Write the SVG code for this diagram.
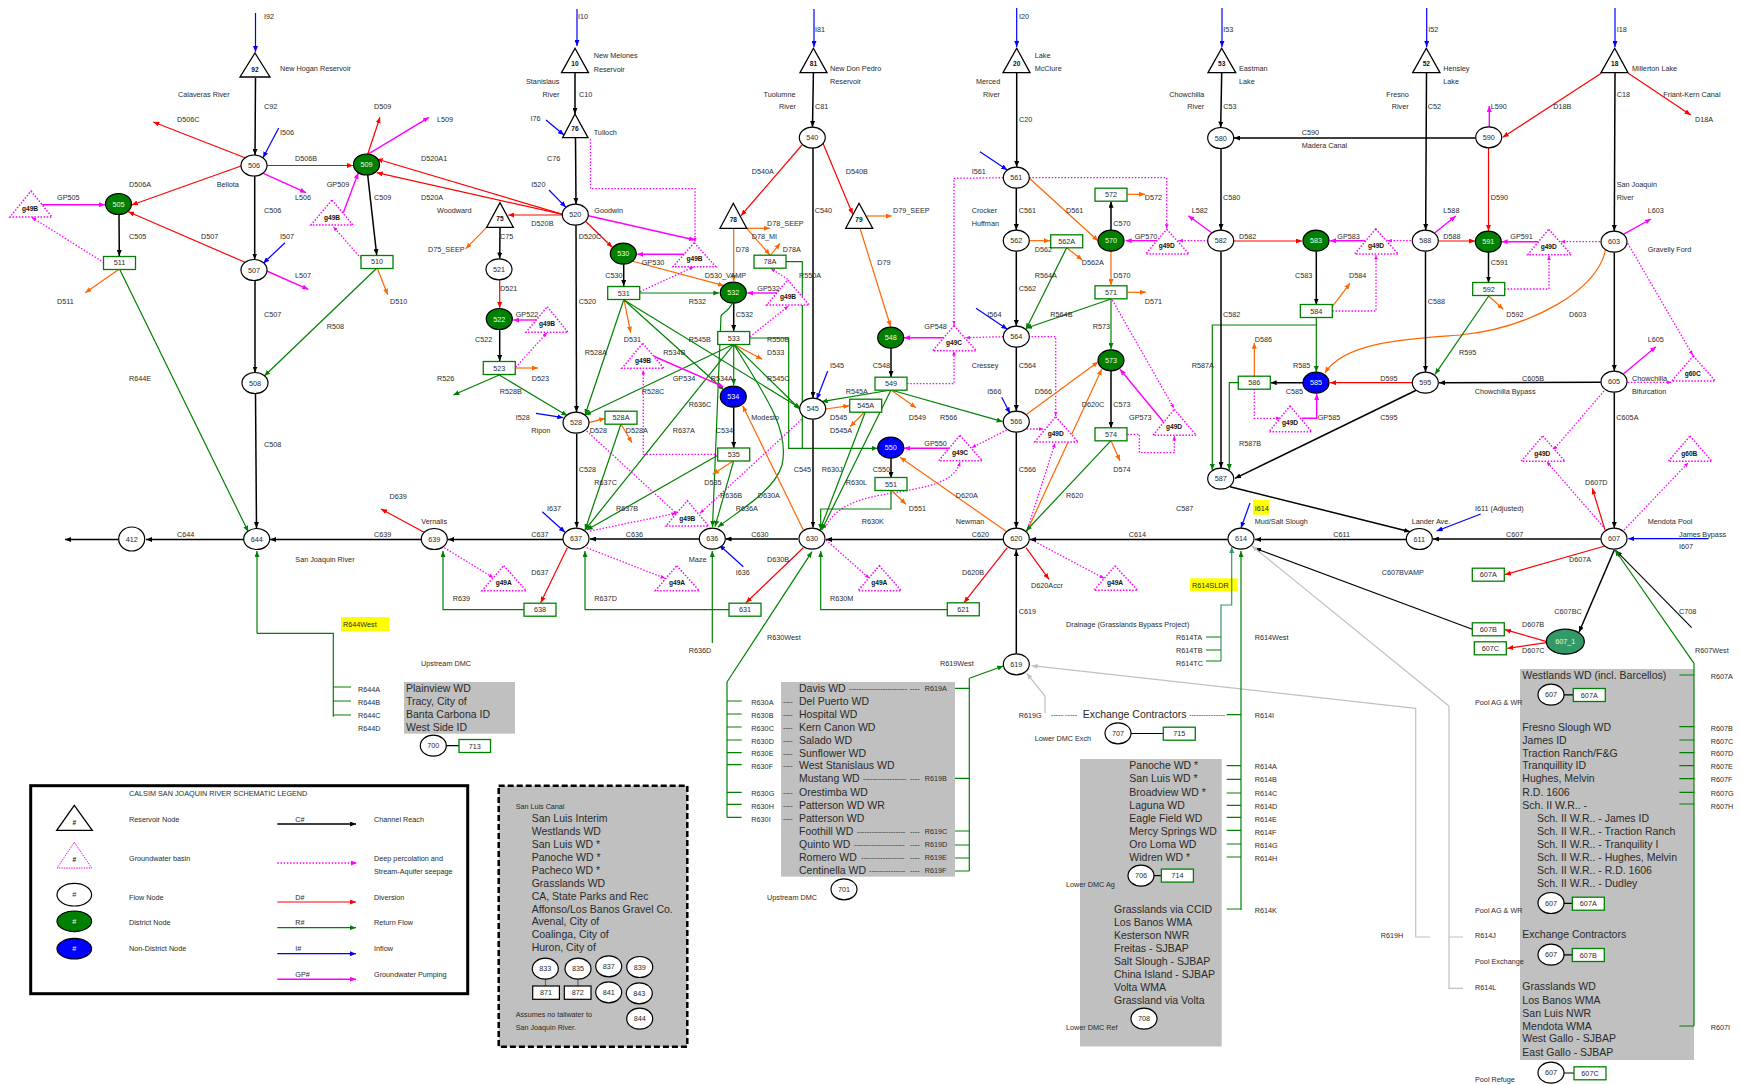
<svg xmlns="http://www.w3.org/2000/svg" width="1740" height="1085" viewBox="0 0 1740 1085">
<style>
text{font-family:"Liberation Sans",Arial,sans-serif;font-size:7.25px;fill:#2a2a2a}
.big text,text.big{font-size:10.5px}
.sm{font-size:7.2px}
.nt{text-anchor:middle}
.wt{fill:#e8ffe8;text-anchor:middle}
.gt{font-size:6.6px;font-weight:bold;text-anchor:middle;fill:#111}
path{fill:none}
.f{fill:#fff;stroke:#000;stroke-width:1.2}
.fg{fill:#008000;stroke:#000;stroke-width:1.2}
.fb{fill:#00f;stroke:#000;stroke-width:1.2}
.fs{fill:#339966;stroke:#000;stroke-width:1.2}
.rc{fill:#fff;stroke:#008000;stroke-width:1.3}
.rk{fill:#fff;stroke:#000;stroke-width:1.2}
.tr{fill:#fff;stroke:#000;stroke-width:1.3}
.gw{fill:#fff;stroke:#f0f;stroke-width:1.5;stroke-dasharray:1.5 1.6}
.c{stroke:#000;stroke-width:1.5;marker-end:url(#ak)}
.d{stroke:#f00;stroke-width:1.2;marker-end:url(#ar)}
.r{stroke:#008000;stroke-width:1.2;marker-end:url(#ag)}
.n{stroke:#008000;stroke-width:1.2}
.i{stroke:#00f;stroke-width:1.2;marker-end:url(#ab)}
.o{stroke:#ff6600;stroke-width:1.2;marker-end:url(#ao)}
.g{stroke:#f0f;stroke-width:1.4;marker-end:url(#am)}
.s{stroke:#f0f;stroke-width:1.3;stroke-dasharray:1.5 1.7;marker-end:url(#as)}
.y{stroke:#c0c0c0;stroke-width:1.2}
.ya{stroke:#c0c0c0;stroke-width:1.2;marker-end:url(#ay)}
.sg{stroke:#339966;stroke-width:1.2}
.k{stroke:#000;stroke-width:1.2}
</style>
<defs>
<marker id="ak" viewBox="0 0 6 5" refX="6" refY="2.5" markerUnits="userSpaceOnUse" markerWidth="6" markerHeight="5" orient="auto"><path d="M0 0L6 2.5L0 5z" style="fill:#000"/></marker>
<marker id="ar" viewBox="0 0 6 5" refX="6" refY="2.5" markerUnits="userSpaceOnUse" markerWidth="6" markerHeight="5" orient="auto"><path d="M0 0L6 2.5L0 5z" style="fill:#f00"/></marker>
<marker id="ag" viewBox="0 0 6 5" refX="6" refY="2.5" markerUnits="userSpaceOnUse" markerWidth="6" markerHeight="5" orient="auto"><path d="M0 0L6 2.5L0 5z" style="fill:#008000"/></marker>
<marker id="ab" viewBox="0 0 6 5" refX="6" refY="2.5" markerUnits="userSpaceOnUse" markerWidth="6" markerHeight="5" orient="auto"><path d="M0 0L6 2.5L0 5z" style="fill:#00f"/></marker>
<marker id="ao" viewBox="0 0 6 5" refX="6" refY="2.5" markerUnits="userSpaceOnUse" markerWidth="6" markerHeight="5" orient="auto"><path d="M0 0L6 2.5L0 5z" style="fill:#ff6600"/></marker>
<marker id="am" viewBox="0 0 6 5" refX="6" refY="2.5" markerUnits="userSpaceOnUse" markerWidth="6" markerHeight="5" orient="auto"><path d="M0 0L6 2.5L0 5z" style="fill:#f0f"/></marker>
<marker id="as" viewBox="0 0 6 5" refX="6" refY="2.5" markerUnits="userSpaceOnUse" markerWidth="4.5" markerHeight="4" orient="auto"><path d="M0 0L6 2.5L0 5z" style="fill:#f0f"/></marker>
<marker id="ay" viewBox="0 0 6 5" refX="6" refY="2.5" markerUnits="userSpaceOnUse" markerWidth="6" markerHeight="5" orient="auto"><path d="M0 0L6 2.5L0 5z" style="fill:#c0c0c0"/></marker>
<marker id="asg" viewBox="0 0 6 5" refX="6" refY="2.5" markerUnits="userSpaceOnUse" markerWidth="6" markerHeight="5" orient="auto"><path d="M0 0L6 2.5L0 5z" style="fill:#339966"/></marker>
</defs>
<rect width="1740" height="1085" fill="#fff"/>

<g id="panels">
<rect x="404" y="682" width="111" height="51.7" fill="#c0c0c0"/>
<rect x="781" y="682" width="174" height="194.7" fill="#c0c0c0"/>
<rect x="1080" y="759" width="141.7" height="287.5" fill="#c0c0c0"/>
<rect x="1520" y="669" width="174" height="391" fill="#c0c0c0"/>
<rect x="498.7" y="785.7" width="188.6" height="261" fill="#c0c0c0" stroke="#000" stroke-width="2.5" stroke-dasharray="6 3"/>
<rect x="341" y="617" width="48" height="14" fill="#ff0"/>
<rect x="1190" y="578.3" width="47.7" height="12.7" fill="#ff0"/>
<rect x="1253" y="500" width="16" height="14.7" fill="#ff0"/>
</g>

<g id="connectors">
<path class="i" d="M255.5 13V52"/><path class="i" d="M577 9V46"/><path class="i" d="M814 9V47"/><path class="i" d="M1016.7 8V47"/><path class="i" d="M1222 8V47"/><path class="i" d="M1426.7 8V47"/><path class="i" d="M1615 8V47"/>
<path class="c" d="M255.5 78L255 155"/>
<path class="i" d="M278.7 128L263 157.7"/>
<path class="d" d="M245 157.7L153.3 122"/>
<path class="d" d="M267 165.5H353"/>
<path class="g" d="M263.3 173.3L306 192.7"/>
<path class="d" d="M241.7 165.7L131.7 205"/>
<path class="c" d="M254.7 176V259.5"/>
<path class="i" d="M285 242.7L263.3 263.3"/>
<path class="d" d="M245 262.3L128.3 211.7"/>
<path class="g" d="M266.7 271L308.3 289.3"/>
<path class="c" d="M255 281V372.5"/>
<path class="c" d="M255.5 393.5L256.5 528"/>
<path class="r" d="M376.7 268.3L264.3 376"/>
<path class="c" d="M119 215L119.3 256"/>
<path class="g" d="M40 204.7H105"/>
<path class="s" d="M104 262.7L31.7 217.3"/>
<path class="o" d="M119 269.3L85.3 292.7"/>
<path class="r" d="M119.5 269L248.3 531.7"/>
<path class="d" d="M367.7 154.3L380 117.3"/>
<path class="g" d="M367.7 154.3L429 117.3"/>
<path class="g" d="M343.3 212.7L358.3 172.7"/>
<path class="c" d="M367.7 175L376.7 255"/>
<path class="s" d="M361 258.3L333.3 226.7"/>
<path class="o" d="M377.3 268.3L387.7 294.7"/>
<path class="d" d="M562.7 214.3L376.7 159"/>
<path class="d" d="M562.7 214.3L376.7 172.7"/>
<path class="d" d="M562.7 215H508.3"/>
<path class="o" d="M486.7 227.3L465.7 248.7"/>
<path class="c" d="M500 228L499.7 258.5"/>
<path class="d" d="M499.7 280V308"/>
<path class="c" d="M499.7 330V361"/>
<path class="g" d="M537.3 320H513.3"/>
<path class="s" d="M515.7 367.3L547 332.7"/>
<path class="o" d="M516 368H538"/>
<path class="r" d="M499.3 375L453.3 395"/>
<path class="r" d="M499.3 375L567.3 415.7"/>
<path class="c" d="M575 73V114"/>
<path class="i" d="M546 120L564 135"/>
<path class="s" d="M590.5 139V188.7H695V242"/>
<path class="c" d="M575.5 138L576 204"/>
<path class="i" d="M549 190L566 207.3"/>
<path class="c" d="M576 225.5L576.5 412"/>
<path class="d" d="M586 221.7L612.3 247.3"/>
<path class="g" d="M588.3 215.7L695 240"/>
<path class="c" d="M623.7 264.5V286"/>
<path class="g" d="M685 254.3H637.3"/>
<path class="o" d="M631.7 261L724 285.7"/>
<path class="s" d="M640 291.7L694 266.7"/>
<path class="r" d="M640 293H719.3"/>
<path class="r" d="M623.7 300L585 415"/>
<path class="o" d="M624 300L630.7 332.7"/>
<path class="r" d="M624 300L724 390"/>
<path class="r" d="M624 300L800 408"/>
<path class="c" d="M733.7 303.5V331"/>
<path class="r" d="M732 304C728 312 722 313 721 316L712.5 527"/>
<path class="g" d="M778.3 293H747.3"/>
<path class="s" d="M750 336.7L788.3 306"/>
<path class="r" d="M750 338H788.7V448.3H877.7"/>
<path class="n" d="M786 261.7H802.3V448.3"/>
<path class="r" d="M733.7 343.7V385"/>
<path class="o" d="M733.7 344.3L762.3 359.3"/>
<path class="r" d="M733.7 344.3L585 415"/>
<path class="r" d="M733.7 344.3L585 530"/>
<path class="r" d="M733.7 344.3L800 409.3"/>
<path class="r" d="M733.7 344.3C765 395 790 430 782 465C775 490 740 510 718 527"/>
<path class="r" d="M733.7 460.7L715 526.7"/>
<path class="r" d="M718.3 455L586.7 530"/>
<path class="o" d="M733.7 460.7L712.7 474.3"/>
<path class="c" d="M733.7 407.5V448"/>
<path class="g" d="M653.3 356L723.3 386.7"/>
<path class="s" d="M718.3 454.3H643.3V370"/>
<path class="o" d="M803.3 530L742.7 405.7"/>
<path class="s" d="M586.7 431L678 515"/>
<path class="s" d="M590 531L676 513.3"/>
<path class="s" d="M801.7 419.3L700 513.3"/>
<path class="s" d="M825 528C840 495 890 495 910 490C935 485 955 480 960 462"/>
<path class="s" d="M826 540L869.3 578.3"/>
<path class="s" d="M586.7 547.7L665 578.3"/>
<path class="s" d="M444.3 547.7L493.3 577.7"/>
<path class="s" d="M1031.7 540L1104 578.3"/>
<path class="c" d="M576.7 433.5V527.5"/>
<path class="i" d="M536 413.3L563.3 417.7"/>
<path class="o" d="M589 422.7L605 418.3"/>
<path class="o" d="M621 424L632 442.7"/>
<path class="r" d="M621 424L585 530"/>
<path class="i" d="M542.3 511.7L565 532.3"/>
<path class="c" d="M699 539H590"/>
<path class="c" d="M798 539H725.5"/>
<path class="c" d="M563 539.5H448"/>
<path class="c" d="M421 539.5H270"/>
<path class="c" d="M244 539.5H146"/>
<path class="c" d="M118.5 539.5H65"/>
<path class="c" d="M813 419.5V527.5"/>
<path class="c" d="M813 148V398"/>
<path class="d" d="M567.3 547.7L540.7 602.7"/>
<path class="r" d="M524 609.7H443V551"/>
<path class="r" d="M729 609.7H585V551"/>
<path class="r" d="M712.3 643V551"/>
<path class="i" d="M743.3 566.7L719.3 545"/>
<path class="d" d="M803.3 547.7L746 602.7"/>
<path class="r" d="M947 609.7H820.7V551"/>
<path class="r" d="M865.7 411L820 530"/>
<path class="r" d="M891 390L821.7 530"/>
<path class="r" d="M891 490V509H820.7V530"/>
<path class="i" d="M827.7 371L816.7 399.3"/>
<path class="r" d="M891 390L821.7 401.7"/>
<path class="o" d="M825.7 409L849.3 405.7"/>
<path class="o" d="M865.7 411L850 426.7"/>
<path class="c" d="M891 348.5V377"/>
<path class="o" d="M891 390L916 407.7"/>
<path class="r" d="M891 390L1002.7 421.7"/>
<path class="s" d="M907 383.7H954V351"/>
<path class="g" d="M943.3 337.7H904"/>
<path class="s" d="M1003.3 336.7L965.7 337.7"/>
<path class="s" d="M1003.3 177.7L954 178.3V325"/>
<path class="s" d="M1029.3 177.7H1166.7V228.7"/>
<path class="o" d="M860 228.3L890.7 326.7"/>
<path class="o" d="M866.7 216H891.7"/>
<path class="o" d="M733.7 228.3V281"/>
<path class="o" d="M746.7 228.3H770"/>
<path class="o" d="M746.7 228.3L770 255"/>
<path class="o" d="M770.7 255L780 243.3"/>
<path class="s" d="M787.7 279.3L770.7 268.3"/>
<path class="d" d="M802 145L741 215.7"/>
<path class="d" d="M822 141L852.7 214.3"/>
<path class="c" d="M813.4 73L812.5 127"/>
<path class="g" d="M949.3 448.3H904"/>
<path class="c" d="M891 458.5V478"/>
<path class="o" d="M891 490L906 504.3"/>
<path class="o" d="M1006.7 531.7L900 457.3"/>
<path class="s" d="M1006.7 430L971.7 447.7"/>
<path class="s" d="M1026.7 429H1043.3"/>
<path class="s" d="M1028.3 336.7H1055.7V416"/>
<path class="s" d="M1026.7 531.7L1055 443.3"/>
<path class="o" d="M1025.7 415L1098.3 361.7"/>
<path class="o" d="M1026.7 531.7L1101.7 369.3"/>
<path class="r" d="M1111 440.7L1026 531"/>
<path class="c" d="M1016.3 188V230"/>
<path class="c" d="M1016.3 251.5V326"/>
<path class="c" d="M1016.3 347V411"/>
<path class="c" d="M1016.3 432.5V528"/>
<path class="c" d="M1003 539.5H826"/>
<path class="c" d="M1016.7 73V167"/>
<path class="i" d="M980 151.7L1007.3 170"/>
<path class="o" d="M1029.3 178.3L1098.3 241"/>
<path class="o" d="M1030 240.7H1050"/>
<path class="o" d="M1066.7 247.7L1082.3 260"/>
<path class="r" d="M1066.7 247.7L1026 329.3"/>
<path class="r" d="M1111 299L1026 328.3"/>
<path class="i" d="M976 308.3L1007.3 329.3"/>
<path class="i" d="M1001.7 397.3L1010 413.3"/>
<path class="c" d="M1111 230V201.7"/>
<path class="o" d="M1127.3 194.3H1145"/>
<path class="o" d="M1111 251V285"/>
<path class="g" d="M1156.7 240.7H1125.7"/>
<path class="s" d="M1208.3 240.7H1178.3"/>
<path class="o" d="M1127.3 292.3H1146"/>
<path class="r" d="M1111 299V349"/>
<path class="s" d="M1112.3 300L1174 408.3"/>
<path class="c" d="M1111 371V428"/>
<path class="g" d="M1163.3 421.7L1120 369.3"/>
<path class="s" d="M1127.3 434.3H1139.3V452.7H1174.3V436"/>
<path class="o" d="M1111 440.7L1120 460.7"/>
<path class="c" d="M1221 148.5V230"/>
<path class="c" d="M1475.5 138H1234"/>
<path class="c" d="M1221.7 73L1220.7 127.5"/>
<path class="g" d="M1211.7 232.7L1188.3 215.7"/>
<path class="d" d="M1233.7 241H1302"/>
<path class="g" d="M1365 240.7H1330"/>
<path class="s" d="M1411 240.7H1387.3"/>
<path class="c" d="M1316.3 251.5V304.5"/>
<path class="o" d="M1332.3 306.7L1350 283.3"/>
<path class="s" d="M1332.3 311H1376V255"/>
<path class="r" d="M1316.3 317.5V372"/>
<path class="r" d="M1316.3 325H1212.3V470"/>
<path class="c" d="M1221 251.5V468"/>
<path class="c" d="M1303.3 382.7H1270.7"/>
<path class="o" d="M1254.3 376.7V342.7"/>
<path class="r" d="M1239.3 382.7H1229.3V470"/>
<path class="s" d="M1254.3 389V418.3H1280.7"/>
<path class="g" d="M1301.7 418.3H1316.7V394"/>
<path class="d" d="M1412 382.7H1330"/>
<path class="o" d="M1605.7 248C1600 290 1530 328 1460 335C1420 338 1345 340 1325 373"/>
<path class="c" d="M1416.7 390L1235 478.3"/>
<path class="c" d="M1230 486.7L1410 531.7"/>
<path class="c" d="M1425.5 251.5V372"/>
<path class="c" d="M1426.5 73L1425.7 230"/>
<path class="g" d="M1435 232.7L1455.7 216"/>
<path class="d" d="M1438.7 241H1475"/>
<path class="d" d="M1488.5 148V231"/>
<path class="g" d="M1489.3 127.7V106"/>
<path class="d" d="M1601.3 73.3L1502.7 137.3"/>
<path class="d" d="M1628.3 73.3L1690.7 115"/>
<path class="c" d="M1615 73L1614.3 231"/>
<path class="c" d="M1488.5 252.5V282.5"/>
<path class="g" d="M1538.7 241.7H1501.7"/>
<path class="s" d="M1600 241.7H1560.7"/>
<path class="s" d="M1504.3 289H1549V255.7"/>
<path class="o" d="M1488.7 296L1503.3 309.3"/>
<path class="r" d="M1488.7 296L1435 374.3"/>
<path class="g" d="M1623.3 234.3L1651 219"/>
<path class="s" d="M1627.7 243.3L1692.7 355"/>
<path class="c" d="M1614.3 252.5V371"/>
<path class="g" d="M1623.3 374L1656 346.7"/>
<path class="s" d="M1627.7 382.3H1671.7"/>
<path class="c" d="M1600.7 382.3L1439 382.7"/>
<path class="c" d="M1614.3 392.5V528"/>
<path class="s" d="M1603.3 526.7L1546.7 461.7"/>
<path class="s" d="M1604 391L1553.3 450"/>
<path class="s" d="M1624 530L1688.3 462.7"/>
<path class="d" d="M1605 530L1592.3 488.3"/>
<path class="i" d="M1708.3 538.7H1628.3"/>
<path class="c" d="M1600.7 539H1433"/>
<path class="i" d="M1480.7 514L1436.7 531"/>
<path class="c" d="M1406 539.5H1255"/>
<path class="c" d="M1227.7 539.5H1030"/>
<path class="d" d="M1605 546L1505 574.7"/>
<path class="c" d="M1614.3 550L1579 632.3"/>
<path class="d" d="M1546.7 641.7L1505 629.7"/>
<path class="d" d="M1546.7 642.7L1507.3 648.3"/>
<path class="c" d="M1016.3 654V550"/>
<path class="d" d="M1007.3 547.7L964 602.7"/>
<path class="d" d="M1026 547.7L1049 579.3"/>
<path class="d" d="M425 532.7L381 509"/>
<path class="i" d="M1250 503L1241 528"/>
<path class="c" style="stroke-width:1.2" d="M1472.3 629.3L1255 548.3"/>
<path class="c" style="stroke-width:1.1" d="M1691.7 627.7L1616 550.7"/>
<path class="r" d="M1694 663.3L1615 550"/>
<path class="n" d="M1694 663.3V1026"/>
<path class="n" d="M1679.3 675H1694M1679.3 726.7H1694M1679.3 740H1694M1679.3 752.7H1694M1679.3 765.7H1694M1679.3 778.7H1694M1679.3 792.3H1694M1679.3 804H1694M1679.3 1026H1694"/>
<path class="r" d="M257 633.3V551"/>
<path class="n" d="M257 633.3H333.3V716.7M333.3 687H351M333.3 701H351M333.3 715H351"/>
<path class="r" d="M727 682L812 551.7"/>
<path class="n" d="M727 682V817.3M727 701H741.7M727 714H741.7M727 727H741.7M727 740H741.7M727 752.7H741.7M727 764.7H741.7M727 792.3H741.7M727 804.3H741.7M727 817.3H741.7"/>
<path class="r" d="M969.3 678.3L1003.3 666"/>
<path class="n" d="M969.3 678.3V871M955 688.3H969.3M955 778.3H969.3M955 831H969.3M955 845H969.3M955 858H969.3M955 871H969.3"/>
<path class="ya" d="M1400 706.7L1031.7 665.7"/>
<path class="y" d="M1400 706.7L1415.7 708.3V937H1430"/>
<path class="ya" d="M1449 706L1251.7 545.7"/>
<path class="y" d="M1449 706V988.3H1463M1449 937H1463"/>
<path class="ya" d="M1045 713.3V696L1026.7 673.3"/>
<path class="r" d="M1241 910V551"/>
<path class="n" d="M1226.7 714.7H1241M1226.7 765.7H1241M1226.7 779.3H1241M1226.7 793H1241M1226.7 805.3H1241M1226.7 817.3H1241M1226.7 830.3H1241M1226.7 844H1241M1226.7 857H1241M1226.7 909H1241"/>
<path class="sg" style="marker-end:url(#asg)" d="M1221 661V605H1231.7V547"/>
<path class="n" d="M1206 637H1221M1206 650H1221M1206 661H1221"/>
<path class="k" d="M446 745.7H459M1131 733.5H1163.3"/>
<path class="k" d="M1564 694.8H1573.3M1564 903.3H1572.3M1564 954.8H1572.3M1564 1073H1574"/>
<path class="k" d="M1154 875.6H1161.4"/>
<path class="k" style="stroke:#666" d="M545.5 979V986M578 979V986"/>
</g>

<g id="legend">
<rect x="30.7" y="785.7" width="437" height="208" fill="none" stroke="#000" stroke-width="3"/>
<text x="129" y="796">CALSIM SAN JOAQUIN RIVER SCHEMATIC LEGEND</text>
<polygon points="74.3,805.3 92.3,830.3 56.7,830.3" class="tr"/><text class="gt" x="74.3" y="825">#</text>
<polygon points="74.3,842.3 91.7,868 57,868" fill="#fff" stroke="#f0f" stroke-width="1" stroke-dasharray="1.5 1"/><text class="gt" x="74.3" y="862">#</text>
<ellipse class="f" cx="74.3" cy="894.7" rx="17.3" ry="11.3"/><text class="nt" x="74.3" y="897.4">#</text>
<ellipse class="fg" cx="74.3" cy="921.3" rx="17.3" ry="10.3"/><text class="wt" x="74.3" y="924">#</text>
<ellipse class="fb" cx="74.3" cy="948.7" rx="17.3" ry="10.3"/><text class="wt" x="74.3" y="951.4">#</text>
<text x="129" y="822">Reservoir Node</text><text x="129" y="861">Groundwater basin</text><text x="129" y="900">Flow Node</text><text x="129" y="925">District Node</text><text x="129" y="951">Non-District Node</text>
<path class="c" d="M277.3 824H356"/><path class="s" style="marker-end:url(#am);stroke-width:1.5" d="M277.3 863H357"/><path class="d" d="M277.3 902H356"/><path class="r" d="M277.3 927.7H356"/><path class="i" d="M277.3 953.7H356"/><path class="g" d="M277.3 979.3H356"/>
<text x="295.3" y="822">C#</text><text x="295.3" y="900">D#</text><text x="295.3" y="925">R#</text><text x="295.3" y="951">I#</text><text x="295.3" y="977">GP#</text>
<text x="374" y="822">Channel Reach</text><text x="374" y="861">Deep percolation and</text><text x="374" y="874">Stream-Aquifer seepage</text><text x="374" y="900">Diversion</text><text x="374" y="925">Return Flow</text><text x="374" y="951">Inflow</text><text x="374" y="977">Groundwater Pumping</text>
</g>

<g id="n92"><polygon class="tr" points="255,53 270,77 240,77"/><text class="gt" x="255" y="71.5">92</text></g>
<g id="n10"><polygon class="tr" points="575,48.3 588.5,72.7 561.5,72.7"/><text class="gt" x="575" y="66">10</text></g>
<g id="n76"><polygon class="tr" points="575,114 588,137.6 562.6,137.6"/><text class="gt" x="575" y="131">76</text></g>
<g id="n81"><polygon class="tr" points="813.4,48.3 827,72.7 800,72.7"/><text class="gt" x="813.4" y="66">81</text></g>
<g id="n20"><polygon class="tr" points="1016.7,48.3 1030,72.7 1003,72.7"/><text class="gt" x="1016.7" y="66">20</text></g>
<g id="n53"><polygon class="tr" points="1221.7,48.3 1235.7,72.7 1208,72.7"/><text class="gt" x="1221.7" y="66">53</text></g>
<g id="n52"><polygon class="tr" points="1426.3,48.3 1440,72.7 1412.7,72.7"/><text class="gt" x="1426.3" y="66">52</text></g>
<g id="n18"><polygon class="tr" points="1614.7,48.3 1628,72.7 1601,72.7"/><text class="gt" x="1614.7" y="66">18</text></g>
<g id="n75"><polygon class="tr" points="500,202.7 513.3,227.3 486.7,227.3"/><text class="gt" x="500" y="221">75</text></g>
<g id="n78"><polygon class="tr" points="733.3,203.3 746.7,228.3 720,228.3"/><text class="gt" x="733.3" y="222">78</text></g>
<g id="n79"><polygon class="tr" points="859,203.3 872.7,228.3 845.7,228.3"/><text class="gt" x="859" y="222">79</text></g>

<g id="gw">
<polygon class="gw" points="31,191 52,217 10,217"/><text class="gt" x="30" y="210.5">g49B</text>
<polygon class="gw" points="332,200 353,225 311,225"/><text class="gt" x="332" y="219.5">g49B</text>
<polygon class="gw" points="694.3,242.7 715.7,266.7 673,266.7"/><text class="gt" x="694.5" y="260.5">g49B</text>
<polygon class="gw" points="787.7,280 809.3,305 766.7,305"/><text class="gt" x="788" y="299">g49B</text>
<polygon class="gw" points="547.3,306.7 568,332.3 526,332.3"/><text class="gt" x="547" y="325.5">g49B</text>
<polygon class="gw" points="642.7,343.3 664,368.3 622,368.3"/><text class="gt" x="643" y="362.5">g49B</text>
<polygon class="gw" points="687.3,500.7 708.7,526 666,526"/><text class="gt" x="687.3" y="520.5">g49B</text>
<polygon class="gw" points="954,325.7 976.3,350.7 932.7,350.7"/><text class="gt" x="954" y="344.5">g49C</text>
<polygon class="gw" points="960,435.3 982.3,460.7 938.7,460.7"/><text class="gt" x="960" y="454.5">g49C</text>
<polygon class="gw" points="1166.7,229.3 1189,254 1145.7,254"/><text class="gt" x="1166.7" y="247.5">g49D</text>
<polygon class="gw" points="1375.7,229 1398.3,254 1354.7,254"/><text class="gt" x="1376" y="247.5">g49D</text>
<polygon class="gw" points="1055.7,416.7 1078.3,442 1034.7,442"/><text class="gt" x="1055.7" y="435.5">g49D</text>
<polygon class="gw" points="1174.3,409.3 1196.3,435.3 1153,435.3"/><text class="gt" x="1174" y="428.5">g49D</text>
<polygon class="gw" points="1290,406 1311.7,431.7 1269,431.7"/><text class="gt" x="1290" y="424.5">g49D</text>
<polygon class="gw" points="1548.7,229.3 1571.3,254.7 1527.7,254.7"/><text class="gt" x="1548.7" y="248.5">g49D</text>
<polygon class="gw" points="1693.3,356 1715.3,381 1671.7,381"/><text class="gt" x="1692.7" y="375.5">g60C</text>
<polygon class="gw" points="1542.7,436 1565,461.3 1521.3,461.3"/><text class="gt" x="1542.3" y="455.5">g49D</text>
<polygon class="gw" points="1690,436 1712,461.3 1668.3,461.3"/><text class="gt" x="1689.3" y="455.5">g60B</text>
<polygon class="gw" points="503.7,565.7 526.3,590.7 482,590.7"/><text class="gt" x="503.7" y="584.5">g49A</text>
<polygon class="gw" points="676.7,565.7 699.3,590.7 655.3,590.7"/><text class="gt" x="677" y="584.5">g49A</text>
<polygon class="gw" points="879.3,565.7 901.3,590.7 858,590.7"/><text class="gt" x="879.3" y="584.5">g49A</text>
<polygon class="gw" points="1115,566 1137.7,590.3 1094,590.3"/><text class="gt" x="1115" y="584.5">g49A</text>
</g>

<g id="n506"><ellipse class="f" cx="254" cy="165.5" rx="13" ry="10.5"/><text class="nt" x="254" y="168.2">506</text></g>
<g id="n507"><ellipse class="f" cx="254" cy="270" rx="13" ry="10.5"/><text class="nt" x="254" y="272.7">507</text></g>
<g id="n508"><ellipse class="f" cx="255" cy="383" rx="13" ry="10.5"/><text class="nt" x="255" y="385.7">508</text></g>
<g id="n505"><ellipse class="fg" cx="118.5" cy="204" rx="13" ry="10.5"/><text class="wt" x="118.5" y="206.7">505</text></g>
<g id="n509"><ellipse class="fg" cx="366.5" cy="164.5" rx="13" ry="10.5"/><text class="wt" x="366.5" y="167.2">509</text></g>
<g id="n511"><rect class="rc" x="103.5" y="256.5" width="32" height="13"/><text class="nt" x="119.5" y="265.2">511</text></g>
<g id="n510"><rect class="rc" x="361" y="255.5" width="32" height="13"/><text class="nt" x="377" y="264.2">510</text></g>
<g id="n520"><ellipse class="f" cx="575.3" cy="214.7" rx="13" ry="10.5"/><text class="nt" x="575.3" y="217.4">520</text></g>
<g id="n521"><ellipse class="f" cx="499" cy="269.3" rx="13" ry="10.5"/><text class="nt" x="499" y="272">521</text></g>
<g id="n522"><ellipse class="fg" cx="499.3" cy="319" rx="13" ry="10.5"/><text class="wt" x="499.3" y="321.7">522</text></g>
<g id="n523"><rect class="rc" x="483.3" y="361.5" width="32" height="13"/><text class="nt" x="499.3" y="370.7">523</text></g>
<g id="n530"><ellipse class="fg" cx="623.3" cy="253.7" rx="13" ry="10.5"/><text class="wt" x="623.3" y="256.4">530</text></g>
<g id="n531"><rect class="rc" x="607.7" y="286.5" width="32" height="13"/><text class="nt" x="623.7" y="295.7">531</text></g>
<g id="n532"><ellipse class="fg" cx="733.3" cy="292.7" rx="13" ry="10.5"/><text class="wt" x="733.3" y="295.4">532</text></g>
<g id="n533"><rect class="rc" x="717.7" y="331.5" width="32" height="13"/><text class="nt" x="733.7" y="340.7">533</text></g>
<g id="n534"><ellipse class="fb" cx="733.3" cy="396.7" rx="13" ry="10.5"/><text class="wt" x="733.3" y="399.4">534</text></g>
<g id="n535"><rect class="rc" x="717.7" y="448" width="32" height="13"/><text class="nt" x="733.7" y="457">535</text></g>
<g id="n528"><ellipse class="f" cx="576" cy="422.7" rx="13" ry="10.5"/><text class="nt" x="576" y="425.4">528</text></g>
<g id="n528A"><rect class="rc" x="605" y="411.2" width="32" height="13"/><text class="nt" x="621" y="420.4">528A</text></g>
<g id="n78A"><rect class="rc" x="754" y="255.2" width="32" height="13"/><text class="nt" x="770" y="264.4">78A</text></g>
<g id="n548"><ellipse class="fg" cx="890.7" cy="337.7" rx="13" ry="10.5"/><text class="wt" x="890.7" y="340.4">548</text></g>
<g id="n549"><rect class="rc" x="875" y="377.2" width="32" height="13"/><text class="nt" x="891" y="386.4">549</text></g>
<g id="n545"><ellipse class="f" cx="812.7" cy="408.7" rx="13" ry="10.5"/><text class="nt" x="812.7" y="411.4">545</text></g>
<g id="n545A"><rect class="rc" x="849.7" y="399.2" width="32" height="13"/><text class="nt" x="865.7" y="408.4">545A</text></g>
<g id="n550"><ellipse class="fb" cx="890.7" cy="447.7" rx="13" ry="10.5"/><text class="wt" x="890.7" y="450.4">550</text></g>
<g id="n551"><rect class="rc" x="875" y="477.5" width="32" height="13"/><text class="nt" x="891" y="486.7">551</text></g>
<g id="n540"><ellipse class="f" cx="812.3" cy="137.6" rx="13" ry="10.5"/><text class="nt" x="812.3" y="140.3">540</text></g>
<g id="n637"><ellipse class="f" cx="576" cy="538.7" rx="13" ry="10.5"/><text class="nt" x="576" y="541.4">637</text></g>
<g id="n636"><ellipse class="f" cx="712.3" cy="538.7" rx="13" ry="10.5"/><text class="nt" x="712.3" y="541.4">636</text></g>
<g id="n630"><ellipse class="f" cx="812" cy="538.7" rx="13" ry="10.5"/><text class="nt" x="812" y="541.4">630</text></g>
<g id="n561"><ellipse class="f" cx="1016.3" cy="177.7" rx="13" ry="10.5"/><text class="nt" x="1016.3" y="180.4">561</text></g>
<g id="n562"><ellipse class="f" cx="1016.3" cy="240.7" rx="13" ry="10.5"/><text class="nt" x="1016.3" y="243.4">562</text></g>
<g id="n562A"><rect class="rc" x="1050.7" y="234.8" width="32" height="13"/><text class="nt" x="1066.7" y="244">562A</text></g>
<g id="n564"><ellipse class="f" cx="1016.3" cy="336.7" rx="13" ry="10.5"/><text class="nt" x="1016.3" y="339.4">564</text></g>
<g id="n566"><ellipse class="f" cx="1016.3" cy="421.7" rx="13" ry="10.5"/><text class="nt" x="1016.3" y="424.4">566</text></g>
<g id="n620"><ellipse class="f" cx="1016.3" cy="538.7" rx="13" ry="10.5"/><text class="nt" x="1016.3" y="541.4">620</text></g>
<g id="n570"><ellipse class="fg" cx="1111" cy="240.7" rx="13" ry="10.5"/><text class="wt" x="1111" y="243.4">570</text></g>
<g id="n572"><rect class="rc" x="1095" y="188.2" width="32" height="13"/><text class="nt" x="1111" y="197.4">572</text></g>
<g id="n571"><rect class="rc" x="1095" y="285.8" width="32" height="13"/><text class="nt" x="1111" y="295">571</text></g>
<g id="n573"><ellipse class="fg" cx="1111" cy="360.3" rx="13" ry="10.5"/><text class="wt" x="1111" y="363">573</text></g>
<g id="n574"><rect class="rc" x="1095" y="427.8" width="32" height="13"/><text class="nt" x="1111" y="437">574</text></g>
<g id="n580"><ellipse class="f" cx="1220.7" cy="138" rx="13" ry="10.5"/><text class="nt" x="1220.7" y="140.7">580</text></g>
<g id="n582"><ellipse class="f" cx="1220.7" cy="240.7" rx="13" ry="10.5"/><text class="nt" x="1220.7" y="243.4">582</text></g>
<g id="n583"><ellipse class="fg" cx="1316" cy="240.7" rx="13" ry="10.5"/><text class="wt" x="1316" y="243.4">583</text></g>
<g id="n584"><rect class="rc" x="1300.3" y="304.5" width="32" height="13"/><text class="nt" x="1316.3" y="313.7">584</text></g>
<g id="n585"><ellipse class="fb" cx="1316" cy="382.7" rx="13" ry="10.5"/><text class="wt" x="1316" y="385.4">585</text></g>
<g id="n586"><rect class="rc" x="1238.3" y="376.2" width="32" height="13"/><text class="nt" x="1254.3" y="385.4">586</text></g>
<g id="n587"><ellipse class="f" cx="1220.7" cy="478.7" rx="13" ry="10.5"/><text class="nt" x="1220.7" y="481.4">587</text></g>
<g id="n614"><ellipse class="f" cx="1241" cy="538.7" rx="13" ry="10.5"/><text class="nt" x="1241" y="541.4">614</text></g>
<g id="n590"><ellipse class="f" cx="1488.7" cy="137.3" rx="13" ry="10.5"/><text class="nt" x="1488.7" y="140">590</text></g>
<g id="n588"><ellipse class="f" cx="1425.3" cy="240.7" rx="13" ry="10.5"/><text class="nt" x="1425.3" y="243.4">588</text></g>
<g id="n591"><ellipse class="fg" cx="1488.3" cy="241.7" rx="13" ry="10.5"/><text class="wt" x="1488.3" y="244.4">591</text></g>
<g id="n592"><rect class="rc" x="1472.7" y="282.5" width="32" height="13"/><text class="nt" x="1488.7" y="291.7">592</text></g>
<g id="n603"><ellipse class="f" cx="1614" cy="241.7" rx="13" ry="10.5"/><text class="nt" x="1614" y="244.4">603</text></g>
<g id="n595"><ellipse class="f" cx="1425.3" cy="382.7" rx="13" ry="10.5"/><text class="nt" x="1425.3" y="385.4">595</text></g>
<g id="n605"><ellipse class="f" cx="1614" cy="381.7" rx="13" ry="10.5"/><text class="nt" x="1614" y="384.4">605</text></g>
<g id="n607"><ellipse class="f" cx="1614" cy="538.7" rx="13" ry="10.5"/><text class="nt" x="1614" y="541.4">607</text></g>
<g id="n611"><ellipse class="f" cx="1419.3" cy="539" rx="13" ry="10.5"/><text class="nt" x="1419.3" y="541.7">611</text></g>
<g id="n607A"><rect class="rc" x="1472.3" y="568.2" width="32" height="13"/><text class="nt" x="1488.3" y="577.4">607A</text></g>
<g id="n607B"><rect class="rc" x="1472.3" y="622.8" width="32" height="13"/><text class="nt" x="1488.3" y="632">607B</text></g>
<g id="n607C"><rect class="rc" x="1474.3" y="641.8" width="32" height="13"/><text class="nt" x="1490.3" y="651">607C</text></g>
<g id="n607_1"><ellipse class="fs" cx="1565.3" cy="641.7" rx="19" ry="12.5"/><text class="wt" x="1565.3" y="644.4">607_1</text></g>
<g id="n412"><ellipse class="f" cx="131.7" cy="539" rx="13" ry="12"/><text class="nt" x="131.7" y="541.7">412</text></g>
<g id="n644"><ellipse class="f" cx="256.7" cy="539" rx="13" ry="10.5"/><text class="nt" x="256.7" y="541.7">644</text></g>
<g id="n639"><ellipse class="f" cx="434.3" cy="539" rx="13" ry="10.5"/><text class="nt" x="434.3" y="541.7">639</text></g>
<g id="n638"><rect class="rc" x="524" y="603.2" width="32" height="13"/><text class="nt" x="540" y="612.4">638</text></g>
<g id="n631"><rect class="rc" x="729" y="603.2" width="32" height="13"/><text class="nt" x="745" y="612.4">631</text></g>
<g id="n621"><rect class="rc" x="947.3" y="602.8" width="32" height="13"/><text class="nt" x="963.3" y="612">621</text></g>
<g id="n619"><ellipse class="f" cx="1016.3" cy="664.3" rx="13" ry="10.5"/><text class="nt" x="1016.3" y="667">619</text></g>
<g id="n700"><ellipse class="f" cx="433.3" cy="745.7" rx="13" ry="10.5"/><text class="nt" x="433.3" y="748.4">700</text></g>
<g id="n713"><rect class="rc" x="459" y="739.5" width="31.5" height="13"/><text class="nt" x="474.7" y="748.7">713</text></g>
<g id="n701"><ellipse class="f" cx="844" cy="889.3" rx="13" ry="10.5"/><text class="nt" x="844" y="892">701</text></g>
<g id="n707"><ellipse class="f" cx="1118" cy="733.3" rx="13" ry="10.5"/><text class="nt" x="1118" y="736">707</text></g>
<g id="n715"><rect class="rc" x="1163.3" y="727.2" width="32" height="13"/><text class="nt" x="1179.3" y="736.4">715</text></g>
<g id="n706"><ellipse class="f" cx="1141" cy="875.6" rx="13" ry="10.5"/><text class="nt" x="1141" y="878.3">706</text></g>
<g id="n714"><rect class="rc" x="1161.4" y="869.1" width="32" height="13"/><text class="nt" x="1177.4" y="878.3">714</text></g>
<g id="n708"><ellipse class="f" cx="1144" cy="1018.7" rx="13" ry="10.5"/><text class="nt" x="1144" y="1021.4">708</text></g>
<g id="n607p1"><ellipse class="f" cx="1551" cy="694.7" rx="13" ry="10.5"/><text class="nt" x="1551" y="697.4">607</text></g>
<g id="n607Ap1"><rect class="rc" x="1573.3" y="688.5" width="32" height="13"/><text class="nt" x="1589.3" y="697.7">607A</text></g>
<g id="n607p2"><ellipse class="f" cx="1551" cy="903" rx="13" ry="10.5"/><text class="nt" x="1551" y="905.7">607</text></g>
<g id="n607Ap2"><rect class="rc" x="1572.3" y="897.2" width="32" height="13"/><text class="nt" x="1588.3" y="906.4">607A</text></g>
<g id="n607p3"><ellipse class="f" cx="1551" cy="954.7" rx="13" ry="10.5"/><text class="nt" x="1551" y="957.4">607</text></g>
<g id="n607Bp3"><rect class="rc" x="1572.3" y="948.5" width="32" height="13"/><text class="nt" x="1588.3" y="957.7">607B</text></g>
<g id="n607p4"><ellipse class="f" cx="1551" cy="1072.7" rx="13" ry="10.5"/><text class="nt" x="1551" y="1075.4">607</text></g>
<g id="n607Cp4"><rect class="rc" x="1574" y="1066.8" width="32" height="13"/><text class="nt" x="1590" y="1076">607C</text></g>
<g id="n833"><ellipse class="f" cx="545.3" cy="968.7" rx="13" ry="10.5"/><text class="nt" x="545.3" y="971.4">833</text></g>
<g id="n835"><ellipse class="f" cx="578" cy="968.7" rx="13" ry="10.5"/><text class="nt" x="578" y="971.4">835</text></g>
<g id="n837"><ellipse class="f" cx="608.7" cy="966.3" rx="13" ry="10.5"/><text class="nt" x="608.7" y="969">837</text></g>
<g id="n839"><ellipse class="f" cx="639.7" cy="967" rx="13" ry="10.5"/><text class="nt" x="639.7" y="969.7">839</text></g>
<g id="n841"><ellipse class="f" cx="608.7" cy="992.3" rx="13" ry="10.5"/><text class="nt" x="608.7" y="995">841</text></g>
<g id="n843"><ellipse class="f" cx="639.3" cy="993.3" rx="13" ry="10.5"/><text class="nt" x="639.3" y="996">843</text></g>
<g id="n844"><ellipse class="f" cx="639.7" cy="1018.7" rx="13" ry="10.5"/><text class="nt" x="639.7" y="1021.4">844</text></g>
<g id="n871"><rect class="rk" x="532.7" y="986" width="26.7" height="13.3"/><text class="nt" x="546" y="995.4">871</text></g>
<g id="n872"><rect class="rk" x="564.3" y="986" width="26.7" height="13.3"/><text class="nt" x="577.7" y="995.4">872</text></g>

<g id="labels">
<text x="264" y="19">I92</text><text x="280" y="71.4">New Hogan Reservoir</text><text x="178" y="97">Calaveras River</text><text x="264" y="109">C92</text><text x="177" y="122">D506C</text><text x="374" y="109">D509</text><text x="437" y="122">L509</text><text x="280" y="135">I506</text><text x="295" y="161">D506B</text><text x="421" y="161">D520A1</text><text x="129" y="187">D506A</text><text x="216.7" y="187">Bellota</text><text x="326.7" y="187">GP509</text><text x="57" y="200">GP505</text><text x="295" y="200">L506</text><text x="374" y="200">C509</text><text x="421" y="200">D520A</text><text x="264" y="213">C506</text><text x="437" y="213">Woodward</text><text x="129" y="239">C505</text><text x="201" y="239">D507</text><text x="280" y="239">I507</text><text x="428" y="252">D75_SEEP</text><text x="295" y="278">L507</text><text x="57" y="304">D511</text><text x="390" y="304">D510</text><text x="264" y="317">C507</text><text x="326.7" y="329">R508</text><text x="475" y="342">C522</text><text x="129" y="381">R644E</text><text x="437" y="381">R526</text>
<text x="264" y="447">C508</text>
<text x="578" y="19.3">I10</text><text x="593.7" y="58.2">New Melones</text><text x="593.7" y="71.5">Reservoir</text><text x="526" y="84">Stanislaus</text><text x="542.6" y="97">River</text><text x="579" y="97">C10</text><text x="530.4" y="121.4">I76</text><text x="593.7" y="134.7">Tulloch</text>
<text x="815" y="32">I81</text><text x="830" y="71">New Don Pedro</text><text x="830" y="84">Reservoir</text><text x="763.5" y="97">Tuolumne</text><text x="779" y="109">River</text><text x="815" y="109">C81</text>
<text x="547" y="161">C76</text><text x="751.7" y="174">D540A</text><text x="845.7" y="174">D540B</text><text x="531.3" y="187">I520</text><text x="594.3" y="213">Goodwin</text><text x="814.7" y="213">C540</text><text x="893" y="213">D79_SEEP</text><text x="531.3" y="226">D520B</text><text x="767" y="226">D78_SEEP</text><text x="500" y="239">C75</text><text x="578.7" y="239">D520C</text><text x="751.7" y="239">D78_MI</text><text x="735.7" y="252">D78</text><text x="782.7" y="252">D78A</text><text x="641.7" y="265">GP530</text><text x="877.3" y="265">D79</text><text x="605.3" y="278">C530</text><text x="704.7" y="278">D530_VAMP</text><text x="799" y="278">R550A</text><text x="500" y="291">D521</text><text x="757.3" y="291">GP532</text><text x="578.7" y="304">C520</text><text x="688.7" y="304">R532</text><text x="515.7" y="317">GP522</text><text x="735.7" y="317">C532</text><text x="924.3" y="329">GP548</text><text x="623.7" y="342">D531</text><text x="688.7" y="342">R545B</text><text x="767" y="342">R550B</text><text x="584.7" y="355">R528A</text><text x="663.3" y="355">R534B</text><text x="767" y="355">D533</text><text x="830" y="368">I545</text><text x="872.7" y="368">C548</text><text x="531.7" y="381">D523</text><text x="672.7" y="381">GP534</text><text x="710.7" y="381">R534A</text><text x="767" y="381">R545C</text><text x="499.7" y="394">R528B</text><text x="641.7" y="394">R528C</text><text x="845.7" y="394">R545A</text><text x="688.7" y="407">R636C</text><text x="515.7" y="420">I528</text><text x="751.3" y="420">Modesto</text><text x="830" y="420">D545</text><text x="908.7" y="420">D549</text><text x="940" y="420">R566</text><text x="531.3" y="433">Ripon</text><text x="589.7" y="433">D528</text><text x="625.7" y="433">D528A</text><text x="672.7" y="433">R637A</text><text x="715.7" y="433">C534</text><text x="830" y="433">D545A</text><text x="924.3" y="446">GP550</text><text x="578.7" y="472">C528</text><text x="793.7" y="472">C545</text><text x="821.7" y="472">R630J</text><text x="872.7" y="472">C550</text><text x="594.3" y="485">R637C</text><text x="704.3" y="485">D535</text><text x="845.7" y="485">R630L</text><text x="720" y="498">R636B</text><text x="757.7" y="498">D630A</text><text x="547" y="511">I637</text><text x="616" y="511">R637B</text><text x="735.7" y="511">R636A</text><text x="908.7" y="511">D551</text><text x="861.7" y="524">R630K</text><text x="531.3" y="537">C637</text><text x="625.7" y="537">C636</text><text x="751.3" y="537">C630</text>
<text x="688.7" y="562">Maze</text><text x="735.7" y="575">I636</text><text x="767" y="562">D630B</text><text x="531.3" y="575">D637</text><text x="452.7" y="601">R639</text><text x="594.3" y="601">R637D</text><text x="830" y="601">R630M</text><text x="767" y="640">R630West</text><text x="688.7" y="653">R636D</text>
<text x="177" y="537">C644</text><text x="374" y="537">C639</text><text x="421.3" y="524">Vernalis</text><text x="295.3" y="562">San Joaquin River</text><text x="389.5" y="499">D639</text><text x="343" y="627">R644West</text><text x="421" y="666">Upstream DMC</text>
<text x="358" y="691.7">R644A</text><text x="358" y="704.7">R644B</text><text x="358" y="717.7">R644C</text><text x="358" y="730.7">R644D</text>
<text x="971.7" y="174">I561</text><text x="971.7" y="213">Crocker</text><text x="1018.7" y="213">C561</text><text x="1066" y="213">D561</text><text x="1113.3" y="226">C570</text><text x="971.7" y="226">Huffman</text><text x="1144.7" y="200">D572</text><text x="1191.7" y="213">L582</text><text x="1223" y="200">C580</text><text x="1034.7" y="252">D562</text><text x="1239" y="239">D582</text><text x="1134.7" y="239">GP570</text><text x="1337.3" y="239">GP583</text><text x="1081.7" y="265">D562A</text><text x="1034.7" y="278">R564A</text><text x="1113.3" y="278">D570</text><text x="1295" y="278">C583</text><text x="1349" y="278">D584</text><text x="1018.7" y="291">C562</text><text x="1144.7" y="304">D571</text><text x="987.3" y="317">I564</text><text x="1050.3" y="317">R564B</text><text x="1223" y="317">C582</text><text x="1092.7" y="329">R573</text><text x="1254.7" y="342">D586</text><text x="971.7" y="368">Cressey</text><text x="1018.7" y="368">C564</text><text x="1191.7" y="368">R587A</text><text x="1293" y="368">R585</text><text x="987.3" y="394">I566</text><text x="1034.7" y="394">D566</text><text x="1285.7" y="394">C585</text><text x="1380.3" y="381">D595</text><text x="1081.7" y="407">D620C</text><text x="1113.3" y="407">C573</text><text x="1129" y="420">GP573</text><text x="1317.7" y="420">GP585</text><text x="1380.3" y="420">C595</text><text x="1239" y="446">R587B</text><text x="1018.7" y="472">C566</text><text x="1113.3" y="472">D574</text><text x="955.7" y="498">D620A</text><text x="1066" y="498">R620</text><text x="1176" y="511">C587</text><text x="955.7" y="524">Newman</text><text x="971.7" y="537">C620</text><text x="1128.7" y="537">C614</text><text x="1333.3" y="537">C611</text>
<text x="962" y="575">D620B</text><text x="1031" y="588">D620Accr</text><text x="1018.7" y="614">C619</text><text x="1018.7" y="718">R619G</text><text x="940" y="666.2">R619West</text>
<text x="1254.7" y="511">I614</text><text x="1254.7" y="524">Mud/Salt Slough</text><text x="1192" y="587.7">R614SLDR</text><text x="1066" y="627">Drainage (Grasslands Bypass Project)</text><text x="1176" y="640">R614TA</text><text x="1176" y="653">R614TB</text><text x="1176" y="666">R614TC</text><text x="1254.7" y="640">R614West</text><text x="1254.7" y="718">R614I</text><text x="1034.7" y="741">Lower DMC Exch</text>
<text x="1254.7" y="769">R614A</text><text x="1254.7" y="782">R614B</text><text x="1254.7" y="796">R614C</text><text x="1254.7" y="809">R614D</text><text x="1254.7" y="822">R614E</text><text x="1254.7" y="835">R614F</text><text x="1254.7" y="848">R614G</text><text x="1254.7" y="861">R614H</text><text x="1254.7" y="913">R614K</text><text x="1066" y="887.2">Lower DMC Ag</text><text x="1066" y="1030.3">Lower DMC Ref</text>
<text x="1428.3" y="32">I52</text><text x="1616.7" y="32">I18</text><text x="1443.3" y="71">Hensley</text><text x="1443.3" y="84">Lake</text><text x="1632" y="71">Millerton Lake</text><text x="1386.3" y="97">Fresno</text><text x="1391.7" y="109">River</text><text x="1616.7" y="97">C18</text><text x="1663.3" y="97">Friant-Kern Canal</text><text x="1427.7" y="109">C52</text><text x="1553.3" y="109">D18B</text><text x="1490.7" y="109">L590</text><text x="1695" y="122">D18A</text><text x="1301.7" y="135">C590</text><text x="1301.7" y="148">Madera Canal</text><text x="1616.7" y="187">San Joaquin</text><text x="1616.7" y="200">River</text><text x="1490.7" y="200">D590</text><text x="1443.3" y="213">L588</text><text x="1647.7" y="213">L603</text><text x="1443.3" y="239">D588</text><text x="1510.3" y="239">GP591</text><text x="1647.7" y="252">Gravelly Ford</text><text x="1490.7" y="265">C591</text><text x="1427.7" y="304">C588</text><text x="1506.3" y="317">D592</text><text x="1569" y="317">D603</text><text x="1647.7" y="342">L605</text><text x="1459" y="355">R595</text><text x="1522" y="381">C605B</text><text x="1632" y="381">Chowchilla</text><text x="1474.7" y="394">Chowchilla Bypass</text><text x="1632" y="394">Bifurcation</text>
<text x="1616.3" y="420">C605A</text><text x="1585" y="485">D607D</text><text x="1475" y="511">I611 (Adjusted)</text><text x="1411.7" y="524">Lander Ave.</text><text x="1647.7" y="524">Mendota Pool</text><text x="1506" y="537">C607</text><text x="1679" y="537">James Bypass</text><text x="1679" y="549">I607</text><text x="1569" y="562">D607A</text><text x="1381.7" y="575">C607BVAMP</text><text x="1554.3" y="614">C607BC</text><text x="1679" y="614">C708</text><text x="1522" y="627">D607B</text><text x="1522" y="653">D607C</text><text x="1695" y="653.4">R607West</text>
<text x="1019" y="19">I20</text><text x="1034.7" y="58">Lake</text><text x="1034.7" y="71">McClure</text><text x="976" y="84">Merced</text><text x="983" y="97">River</text><text x="1019" y="122">C20</text><text x="1223.3" y="32">I53</text><text x="1239" y="71">Eastman</text><text x="1239" y="84">Lake</text><text x="1169.3" y="97">Chowchilla</text><text x="1187.3" y="109">River</text><text x="1223.3" y="109">C53</text>
<text x="1710.7" y="678.7">R607A</text><text x="1710.7" y="731">R607B</text><text x="1710.7" y="744">R607C</text><text x="1710.7" y="756">R607D</text><text x="1710.7" y="769">R607E</text><text x="1710.7" y="782">R607F</text><text x="1710.7" y="796">R607G</text><text x="1710.7" y="809">R607H</text><text x="1710.7" y="1030">R607I</text>
<text x="1475" y="705">Pool AG &amp; WR</text><text x="1475" y="913">Pool AG &amp; WR</text><text x="1475" y="964.4">Pool Exchange</text><text x="1475" y="938.4">R614J</text><text x="1475" y="990">R614L</text><text x="1475" y="1082">Pool Refuge</text><text x="1380.7" y="938.4">R619H</text>
<text x="751.3" y="705">R630A</text><text x="751.3" y="718">R630B</text><text x="751.3" y="731">R630C</text><text x="751.3" y="744">R630D</text><text x="751.3" y="756">R630E</text><text x="751.3" y="769">R630F</text><text x="751.3" y="796">R630G</text><text x="751.3" y="809">R630H</text><text x="751.3" y="822">R630I</text><text x="767" y="900">Upstream DMC</text>
<text class="sm" x="515.7" y="809">San Luis Canal</text><text class="sm" x="515.7" y="1017">Assumes no tailwater to</text><text class="sm" x="515.7" y="1030">San Joaquin River.</text>
<text x="1051" y="717">----- -----</text><text x="1189" y="717">---------------</text>
<text x="849" y="691">------------------------</text><text x="910" y="691">----</text><text x="924.7" y="691">R619A</text>
<text x="863" y="781">------------------</text><text x="910" y="781">----</text><text x="924.7" y="781">R619B</text>
<text x="857" y="834">--------------------</text><text x="910" y="834">----</text><text x="924.7" y="834">R619C</text>
<text x="854" y="847">---------------------</text><text x="910" y="847">----</text><text x="924.7" y="847">R619D</text>
<text x="861" y="860">------------------</text><text x="910" y="860">----</text><text x="924.7" y="860">R619E</text>
<text x="869" y="873">---------------</text><text x="910" y="873">----</text><text x="924.7" y="873">R619F</text>
<text x="783" y="704">----</text><text x="783" y="717">----</text><text x="783" y="730">----</text><text x="783" y="743">----</text><text x="783" y="756">----</text><text x="783" y="768">----</text><text x="783" y="795">----</text><text x="783" y="808">----</text><text x="783" y="821">----</text>
</g>

<g id="lists" class="big">
<text x="406" y="692">Plainview WD</text><text x="406" y="705">Tracy, City of</text><text x="406" y="718">Banta Carbona ID</text><text x="406" y="731">West Side ID</text>
<text x="799" y="692">Davis WD</text><text x="799" y="705">Del Puerto WD</text><text x="799" y="718">Hospital WD</text><text x="799" y="731">Kern Canon WD</text><text x="799" y="744">Salado WD</text><text x="799" y="757">Sunflower WD</text><text x="799" y="769">West Stanislaus WD</text><text x="799" y="782">Mustang WD</text><text x="799" y="796">Orestimba WD</text><text x="799" y="809">Patterson WD WR</text><text x="799" y="822">Patterson WD</text><text x="799" y="835">Foothill WD</text><text x="799" y="848">Quinto WD</text><text x="799" y="861">Romero WD</text><text x="799" y="874">Centinella WD</text>
<text x="1082.7" y="718">Exchange Contractors</text>
<text x="1129.3" y="769">Panoche WD *</text><text x="1129.3" y="782">San Luis WD *</text><text x="1129.3" y="796">Broadview WD *</text><text x="1129.3" y="809">Laguna WD</text><text x="1129.3" y="822">Eagle Field WD</text><text x="1129.3" y="835">Mercy Springs WD</text><text x="1129.3" y="848">Oro Loma WD</text><text x="1129.3" y="861">Widren WD *</text>
<text x="1114" y="912.6">Grasslands via CCID</text><text x="1114" y="925.6">Los Banos WMA</text><text x="1114" y="938.6">Kesterson NWR</text><text x="1114" y="951.6">Freitas - SJBAP</text><text x="1114" y="964.6">Salt Slough - SJBAP</text><text x="1114" y="977.6">China Island - SJBAP</text><text x="1114" y="990.6">Volta WMA</text><text x="1114" y="1003.6">Grassland via Volta</text>
<text x="1522.3" y="679">Westlands WD (incl. Barcellos)</text><text x="1522.3" y="731">Fresno Slough WD</text><text x="1522.3" y="744">James ID</text><text x="1522.3" y="757">Traction Ranch/F&amp;G</text><text x="1522.3" y="769.4">Tranquillity ID</text><text x="1522.3" y="782">Hughes, Melvin</text><text x="1522.3" y="796">R.D. 1606</text><text x="1522.3" y="808.7">Sch. II W.R.. -</text><text x="1537" y="822">Sch. II W.R.. - James ID</text><text x="1537" y="835">Sch. II W.R.. - Traction Ranch</text><text x="1537" y="848">Sch. II W.R.. - Tranquility I</text><text x="1537" y="861">Sch. II W.R.. - Hughes, Melvin</text><text x="1537" y="874">Sch. II W.R.. - R.D. 1606</text><text x="1537" y="887">Sch. II W.R.. - Dudley</text><text x="1522.3" y="938.4">Exchange Contractors</text><text x="1522.3" y="990">Grasslands WD</text><text x="1522.3" y="1004">Los Banos WMA</text><text x="1522.3" y="1017">San Luis NWR</text><text x="1522.3" y="1030">Mendota WMA</text><text x="1522.3" y="1042">West Gallo - SJBAP</text><text x="1522.3" y="1056">East Gallo - SJBAP</text>
<text x="531.7" y="822.4">San Luis Interim</text><text x="531.7" y="835.4">Westlands WD</text><text x="531.7" y="848.4">San Luis WD *</text><text x="531.7" y="861.4">Panoche WD *</text><text x="531.7" y="874">Pacheco WD *</text><text x="531.7" y="887">Grasslands WD</text><text x="531.7" y="900">CA, State Parks and Rec</text><text x="531.7" y="913">Affonso/Los Banos Gravel Co.</text><text x="531.7" y="925.4">Avenal, City of</text><text x="531.7" y="938.4">Coalinga, City of</text><text x="531.7" y="951.4">Huron, City of</text>
</g>
</svg>
